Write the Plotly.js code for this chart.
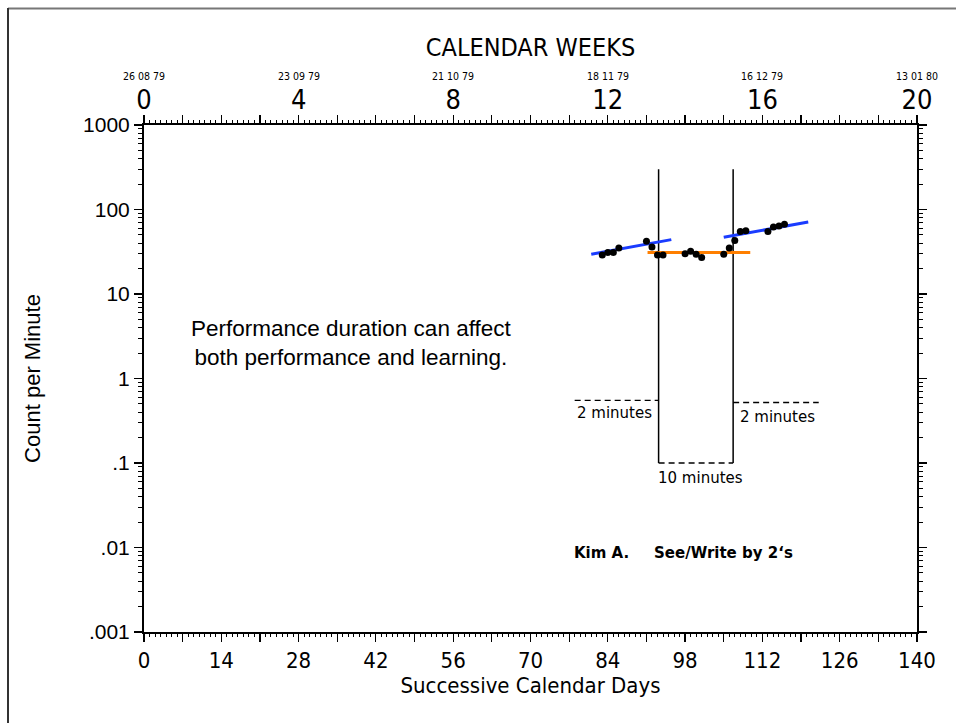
<!DOCTYPE html>
<html>
<head>
<meta charset="utf-8">
<script src="https://cdn.plot.ly/plotly-3.0.1.min.js"></script>
<style>
html,body{margin:0;padding:0;background:#fff;}
#chart{width:956px;height:723px;}
</style>
</head>
<body>
<div id="chart"></div>
<script>
// ---- data ----
const days = [83, 84, 85, 86, 91, 92, 93, 94, 98, 99, 100, 101, 105, 106, 107, 108, 109, 113, 114, 115, 116];
const counts = [29, 31, 31, 35, 42, 36, 29, 29, 30, 32, 29.5, 27, 29.5, 35, 43, 55, 56, 55, 62, 64, 67];

const trend1Days = [81, 95.5];
const trend1Vals = [29.5, 44];
const levelDays = [91.2, 109.8];
const levelVals = [31, 31];
const trend2Days = [105, 120.3];
const trend2Vals = [47, 71];

const phaseLineDays = [93.2, 106.7];
const phaseLineRange = [0.1, 300];

const dashLeftDays = [78, 93.2];
const dashLeftVals = [0.55, 0.55];
const dashRightDays = [106.7, 122.2];
const dashRightVals = [0.52, 0.52];
const dashBottomDays = [93.2, 106.7];
const dashBottomVals = [0.1, 0.1];

const dayTicks = [0,7,14,21,28,35,42,49,56,63,70,77,84,91,98,105,112,119,126,133,140];
const dayTickText = dayTicks.map(d => (d % 14 === 0 ? String(d) : ''));
const weekTicks = [0,1,2,3,4,5,6,7,8,9,10,11,12,13,14,15,16,17,18,19,20];
const weekTickText = weekTicks.map(w => (w % 4 === 0 ? String(w) : ''));
const weekDates = ['26 08 79', '23 09 79', '21 10 79', '18 11 79', '16 12 79', '13 01 80'];
const weekDateAt = [0, 4, 8, 12, 16, 20];
const yTicks = [0.001, 0.01, 0.1, 1, 10, 100, 1000];
const yTickText = ['.001', '.01', '.1', '1', '10', '100', '1000'];

// ---- build ----
const NARROW = '"Liberation Sans Narrow", "DejaVu Sans Condensed", "Liberation Sans", sans-serif';
const SANS = '"Liberation Sans", Arial, sans-serif';
const LUCIDA = '"DejaVu Sans", "Noto Sans", sans-serif';

const yMinor = [];
for (let e = -3; e < 3; e++) for (let m = 2; m <= 9; m++) yMinor.push(m * Math.pow(10, e));

const traces = [];
phaseLineDays.forEach(d => traces.push({
  x: [d, d], y: phaseLineRange, mode: 'lines', line: {color: '#000', width: 1.5},
  hoverinfo: 'skip', showlegend: false, xaxis: 'x', yaxis: 'y'
}));
[[dashLeftDays, dashLeftVals], [dashRightDays, dashRightVals], [dashBottomDays, dashBottomVals]].forEach(p => traces.push({
  x: p[0], y: p[1], mode: 'lines', line: {color: '#000', width: 1.3, dash: '6px,4px'},
  hoverinfo: 'skip', showlegend: false
}));
traces.push({x: trend1Days, y: trend1Vals, mode: 'lines', line: {color: '#1a3cff', width: 3}, showlegend: false});
traces.push({x: trend2Days, y: trend2Vals, mode: 'lines', line: {color: '#1a3cff', width: 3}, showlegend: false});
traces.push({x: levelDays, y: levelVals, mode: 'lines', line: {color: '#ff7f00', width: 3}, showlegend: false});
traces.push({x: days, y: counts, mode: 'markers', marker: {color: '#000', size: 7}, showlegend: false});
// dummy trace to activate the top axis
traces.push({x: [0, 20], y: [1, 1], xaxis: 'x2', yaxis: 'y', mode: 'markers', marker: {opacity: 0}, hoverinfo: 'skip', showlegend: false});

const plotL = 144, plotR = 917, plotT = 125, plotB = 632;
const pw = plotR - plotL, ph = plotB - plotT;
const px2paperX = px => (px - plotL) / pw;
const px2paperY = py => (plotB - py) / ph;

const annotations = [
  {x: 37.5, y: Math.log10(2.65), xref: 'x', yref: 'y', text: 'Performance duration can affect<br>both performance and learning.',
   showarrow: false, font: {family: SANS, size: 22.5, color: '#000'}, align: 'center'},
  {x: 85.3, y: Math.log10(0.39), xref: 'x', yref: 'y', text: '2 minutes', showarrow: false, font: {family: LUCIDA, size: 15, color: '#000'}},
  {x: 114.7, y: Math.log10(0.35), xref: 'x', yref: 'y', text: '2 minutes', showarrow: false, font: {family: LUCIDA, size: 15, color: '#000'}},
  {x: 100.7, y: Math.log10(0.066), xref: 'x', yref: 'y', text: '10 minutes', showarrow: false, font: {family: LUCIDA, size: 15, color: '#000'}},
  {x: 82.8, y: -2.065, xref: 'x', yref: 'y', text: '<b>Kim A.</b>', showarrow: false, font: {family: LUCIDA, size: 15, color: '#000'}},
  {x: 104.9, y: -2.065, xref: 'x', yref: 'y', text: '<b>See/Write by 2‘s</b>', showarrow: false, font: {family: LUCIDA, size: 15, color: '#000'}}
];
weekDates.forEach((t, i) => annotations.push({
  x: weekDateAt[i], xref: 'x2', y: px2paperY(76), yref: 'paper', yanchor: 'middle', xanchor: 'center', text: t, showarrow: false,
  font: {family: NARROW, size: 10.5, color: '#000'}
}));

const layout = {
  width: 956, height: 723,
  margin: {l: plotL, r: 956 - plotR, t: plotT, b: 723 - plotB, pad: 0},
  paper_bgcolor: '#fff', plot_bgcolor: '#fff',
  showlegend: false,
  xaxis: {
    range: [0, 140], tickmode: 'array', tickvals: dayTicks, ticktext: dayTickText,
    ticks: 'outside', ticklen: 8, tickwidth: 1.2, tickcolor: '#000',
    minor: {dtick: 1, tick0: 0, ticks: 'outside', ticklen: 3, tickwidth: 1, tickcolor: '#000', showgrid: false},
    showline: true, linecolor: '#000', linewidth: 2, showgrid: false, zeroline: false,
    tickfont: {family: NARROW, size: 22, color: '#000'},
    title: {text: 'Successive Calendar Days', font: {family: NARROW, size: 22, color: '#000'}, standoff: 5},
    automargin: false
  },
  xaxis2: {
    overlaying: 'x', side: 'top', anchor: 'y', range: [0, 20], tickmode: 'array', tickvals: weekTicks, ticktext: weekTickText,
    ticks: 'outside', ticklen: 8, tickwidth: 1.2, tickcolor: '#000', ticklabelstandoff: -5,
    minor: {dtick: 1 / 7, tick0: 0, ticks: 'outside', ticklen: 3, tickwidth: 1, tickcolor: '#000', showgrid: false},
    showline: true, linecolor: '#000', linewidth: 2, showgrid: false, zeroline: false,
    tickfont: {family: NARROW, size: 27, color: '#000'},
    title: {text: 'CALENDAR WEEKS', font: {family: NARROW, size: 25, color: '#000'}, standoff: 20},
    automargin: false
  },
  yaxis: {
    type: 'log', range: [-3, 3], tickmode: 'array', tickvals: yTicks, ticktext: yTickText,
    ticks: 'outside', ticklen: 8, tickwidth: 1.2, tickcolor: '#000', mirror: 'ticks',
    minor: {tickmode: 'array', tickvals: yMinor, ticks: 'outside', ticklen: 4, tickwidth: 1, tickcolor: '#000', showgrid: false},
    showline: true, linecolor: '#000', linewidth: 2, showgrid: false, zeroline: false,
    tickfont: {family: SANS, size: 21, color: '#000'},
    title: {text: 'Count per Minute', font: {family: SANS, size: 22, color: '#000'}, standoff: 36},
    automargin: false
  },
  annotations: annotations,
  shapes: [
    {type: 'line', xref: 'paper', yref: 'paper', x0: px2paperX(8), x1: px2paperX(960), y0: px2paperY(8.5), y1: px2paperY(8.5), line: {color: '#777', width: 2}},
    {type: 'line', xref: 'paper', yref: 'paper', x0: px2paperX(8), x1: px2paperX(8), y0: px2paperY(8), y1: px2paperY(730), line: {color: '#333', width: 2}}
  ]
};

Plotly.newPlot('chart', traces, layout, {displayModeBar: false, staticPlot: true});
</script>
</body>
</html>
